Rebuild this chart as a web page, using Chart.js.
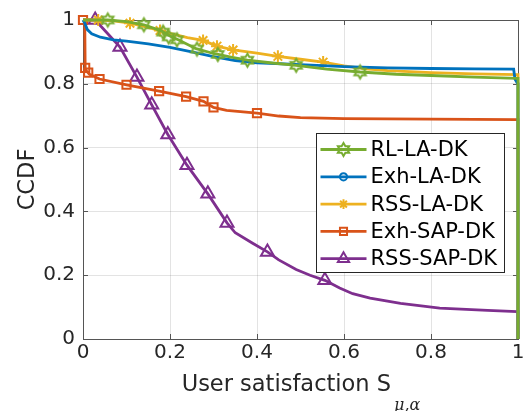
<!DOCTYPE html>
<html>
<head>
<meta charset="utf-8">
<script src="https://cdn.jsdelivr.net/npm/chart.js@4.4.1/dist/chart.umd.min.js"></script>
<style>
  html, body { margin: 0; padding: 0; background: #ffffff; }
  #wrap { width: 529px; height: 411px; }
</style>
</head>
<body>
<div id="wrap"><canvas id="c" width="529" height="411"></canvas></div>
<script>
// Axis ticks
const xTicks = [0, 0.2, 0.4, 0.6, 0.8, 1];
const yTicks = [0, 0.2, 0.4, 0.6, 0.8, 1];

// Series names (legend order)
const seriesNames = ['RL-LA-DK', 'Exh-LA-DK', 'RSS-LA-DK', 'Exh-SAP-DK', 'RSS-SAP-DK'];

// CCDF curves as [satisfaction, ccdf]
const rlLaCurve = [[0,1],[0.057,1.0],[0.1,0.995],[0.14,0.985],[0.18,0.966],[0.2,0.95],[0.22,0.937],[0.26,0.91],[0.3,0.895],[0.34,0.884],[0.378,0.874],[0.43,0.866],[0.49,0.858],[0.56,0.846],[0.637,0.837],[0.72,0.83],[0.8,0.826],[0.9,0.821],[0.998,0.817],[1,0.817],[1,0]];
const rlLaMarks = [[0.057,1.0],[0.14,0.985],[0.184,0.962],[0.197,0.947],[0.216,0.938],[0.262,0.909],[0.31,0.892],[0.378,0.874],[0.49,0.858],[0.637,0.837]];

const exhLaCurve = [[0,1],[0.004,0.99],[0.01,0.97],[0.02,0.957],[0.04,0.946],[0.07,0.938],[0.1,0.934],[0.15,0.925],[0.2,0.914],[0.25,0.9],[0.3,0.885],[0.35,0.873],[0.4,0.866],[0.5,0.86],[0.6,0.854],[0.7,0.85],[0.8,0.848],[0.9,0.847],[0.99,0.846],[0.993,0.815],[0.998,0.803],[1,0.801],[1,0]];
const exhLaMarks = [];

const rssLaCurve = [[0,1],[0.035,1.0],[0.07,0.997],[0.108,0.99],[0.14,0.98],[0.177,0.967],[0.2,0.958],[0.24,0.945],[0.276,0.936],[0.308,0.918],[0.345,0.906],[0.4,0.896],[0.448,0.886],[0.5,0.877],[0.552,0.868],[0.6,0.856],[0.65,0.847],[0.7,0.841],[0.8,0.835],[0.9,0.831],[0.998,0.829],[1,0.829],[1,0]];
const rssLaMarks = [[0.035,1.0],[0.108,0.99],[0.177,0.967],[0.276,0.936],[0.308,0.918],[0.345,0.906],[0.448,0.886],[0.552,0.868]];

const exhSapCurve = [[0,1],[0.004,1],[0.005,0.85],[0.008,0.84],[0.015,0.83],[0.038,0.815],[0.1,0.797],[0.175,0.777],[0.237,0.76],[0.277,0.745],[0.3,0.726],[0.33,0.717],[0.4,0.708],[0.45,0.699],[0.5,0.694],[0.6,0.691],[0.8,0.689],[0.998,0.688],[1,0.688],[1,0]];
const exhSapMarks = [[0,1],[0.005,0.85],[0.012,0.835],[0.038,0.815],[0.1,0.797],[0.175,0.777],[0.237,0.76],[0.277,0.745],[0.3,0.726],[0.4,0.708]];

const rssSapCurve = [[0,1],[0.028,1.0],[0.085,0.915],[0.124,0.821],[0.158,0.734],[0.195,0.641],[0.239,0.545],[0.287,0.455],[0.331,0.364],[0.35,0.333],[0.39,0.3],[0.424,0.273],[0.45,0.248],[0.49,0.218],[0.522,0.2],[0.556,0.184],[0.59,0.16],[0.62,0.142],[0.66,0.128],[0.73,0.112],[0.82,0.097],[0.93,0.09],[0.998,0.086],[1,0.086],[1,0]];
const rssSapMarks = [[0.028,1.0],[0.085,0.915],[0.124,0.821],[0.158,0.734],[0.195,0.641],[0.239,0.545],[0.287,0.455],[0.331,0.364],[0.424,0.273],[0.556,0.184]];

const colors = ['#77AC30', '#0072BD', '#EDB120', '#D95319', '#7E2F8E'];

// Six-pointed star marker drawn on a small canvas
function makeHexagram(color, R, lw) {
  const s = Math.ceil(2 * R + lw * 2 + 2);
  const cv = document.createElement('canvas');
  cv.width = s; cv.height = s;
  const g = cv.getContext('2d');
  const c = s / 2, r = R / Math.sqrt(3);
  g.beginPath();
  for (let i = 0; i < 12; i++) {
    const a = -Math.PI / 2 + i * Math.PI / 6;
    const rr = i % 2 === 0 ? R : r;
    const px = c + rr * Math.cos(a), py = c + rr * Math.sin(a);
    if (i === 0) g.moveTo(px, py); else g.lineTo(px, py);
  }
  g.closePath();
  g.strokeStyle = color;
  g.lineWidth = lw;
  g.lineJoin = 'miter';
  g.stroke();
  return cv;
}
const hexagram = makeHexagram(colors[0], 6.5, 2);

const markerStyles = [
  { style: hexagram, radius: 6.5 },
  { style: 'circle', radius: 4.5 },
  { style: 'star', radius: 6 },
  { style: 'rect', radius: 5.8 },
  { style: 'triangle', radius: 7.5 }
];

const curves = [rlLaCurve, exhLaCurve, rssLaCurve, exhSapCurve, rssSapCurve];
const marks = [rlLaMarks, exhLaMarks, rssLaMarks, exhSapMarks, rssSapMarks];
const toXY = arr => arr.map(p => ({ x: p[0], y: p[1] }));

const datasets = [];
seriesNames.forEach((name, i) => {
  datasets.push({
    label: name,
    data: toXY(curves[i]),
    borderColor: colors[i],
    borderWidth: 2.8,
    pointRadius: 0,
    tension: 0,
    fill: false,
    clip: false,
    order: i * 2 + 1
  });
  datasets.push({
    label: name + ' markers',
    data: toXY(marks[i]),
    showLine: false,
    pointStyle: markerStyles[i].style,
    pointRadius: markerStyles[i].radius,
    pointHoverRadius: markerStyles[i].radius,
    pointBorderColor: colors[i],
    pointBackgroundColor: 'rgba(0,0,0,0)',
    pointBorderWidth: 2,
    clip: false,
    order: i * 2
  });
});

const textColor = '#262626';
const frameColor = '#555555';

// Full box around the plot with inward tick marks on all four sides
const framePlugin = {
  id: 'frame',
  beforeDatasetsDraw(chart) {
    const { ctx, chartArea: a, scales } = chart;
    ctx.save();
    ctx.strokeStyle = frameColor;
    ctx.lineWidth = 1;
    ctx.strokeRect(Math.round(a.left) + 0.5, Math.round(a.top) + 0.5,
      Math.round(a.right - a.left), Math.round(a.bottom - a.top));
    const L = 5;
    ctx.beginPath();
    xTicks.forEach(v => {
      const px = Math.round(scales.x.getPixelForValue(v)) + 0.5;
      ctx.moveTo(px, a.bottom); ctx.lineTo(px, a.bottom - L);
      ctx.moveTo(px, a.top); ctx.lineTo(px, a.top + L);
    });
    yTicks.forEach(v => {
      const py = Math.round(scales.y.getPixelForValue(v)) + 0.5;
      ctx.moveTo(a.left, py); ctx.lineTo(a.left + L, py);
      ctx.moveTo(a.right, py); ctx.lineTo(a.right - L, py);
    });
    ctx.stroke();
    ctx.restore();
  }
};

// Axis titles, with the subscript on the x title
const titlePlugin = {
  id: 'axisTitles',
  afterDraw(chart) {
    const { ctx, chartArea: a } = chart;
    ctx.save();
    ctx.fillStyle = textColor;
    const main = 'User satisfaction S';
    const sub = '\u03BC,\u03B1';
    const mainFont = '22.5px "DejaVu Sans"';
    const subFont = 'italic 16px "DejaVu Serif"';
    ctx.font = mainFont;
    const wMain = ctx.measureText(main).width;
    ctx.font = subFont;
    const wSub = ctx.measureText(sub).width;
    const cx = (a.left + a.right) / 2;
    const x0 = cx - (wMain + wSub + 2) / 2;
    ctx.textBaseline = 'alphabetic';
    ctx.textAlign = 'left';
    ctx.font = mainFont;
    ctx.fillText(main, x0, a.bottom + 52);
    ctx.font = subFont;
    ctx.fillText(sub, x0 + wMain + 3, a.bottom + 71);

    ctx.font = mainFont;
    ctx.translate(a.left - 49, (a.top + a.bottom) / 2);
    ctx.rotate(-Math.PI / 2);
    ctx.textAlign = 'center';
    ctx.fillText('CCDF', 0, 0);
    ctx.restore();
  }
};

// Boxed legend showing line sample with marker for each series
const legendPlugin = {
  id: 'boxLegend',
  afterDraw(chart) {
    const { ctx, chartArea: a } = chart;
    const bw = 188, bh = 139;
    const bx = Math.round(a.right - 202) + 0.5;
    const by = Math.round(a.top + 113) + 0.5;
    ctx.save();
    ctx.fillStyle = '#ffffff';
    ctx.fillRect(bx, by, bw, bh);
    ctx.strokeStyle = '#262626';
    ctx.lineWidth = 1;
    ctx.strokeRect(bx, by, bw, bh);
    ctx.font = '21px "DejaVu Sans"';
    ctx.textBaseline = 'middle';
    ctx.textAlign = 'left';
    seriesNames.forEach((name, i) => {
      const ry = by + 16 + i * 27.3;
      ctx.strokeStyle = colors[i];
      ctx.lineWidth = 2.8;
      ctx.beginPath();
      ctx.moveTo(bx + 4, ry);
      ctx.lineTo(bx + 50, ry);
      ctx.stroke();
      ctx.fillStyle = 'rgba(0,0,0,0)';
      ctx.lineWidth = 2;
      const ms = markerStyles[i];
      Chart.helpers.drawPoint(ctx, {
        pointStyle: ms.style,
        radius: i === 4 ? 6.5 : (i === 3 ? 5 : ms.radius * 0.8),
        rotation: 0,
        borderWidth: 2
      }, bx + 27, ry);
      ctx.fillStyle = '#000000';
      ctx.fillText(name, bx + 54, ry + 1);
    });
    ctx.restore();
  }
};

const fmt = v => String(Number(v.toFixed(1)));

new Chart(document.getElementById('c'), {
  type: 'line',
  data: { datasets },
  options: {
    responsive: false,
    animation: false,
    devicePixelRatio: 1,
    layout: { padding: { left: 0, top: 18, right: 11, bottom: 0 } },
    plugins: { legend: { display: false }, tooltip: { enabled: false } },
    scales: {
      x: {
        type: 'linear', min: 0, max: 1,
        afterFit(scale) { scale.height = 72; },
        afterBuildTicks(scale) { scale.ticks = xTicks.map(v => ({ value: v })); },
        ticks: { callback: fmt, padding: 2, maxRotation: 0, autoSkip: false,
          color: textColor, font: { family: 'DejaVu Sans', size: 20 } },
        grid: { color: 'rgba(38,38,38,0.13)', drawTicks: false, lineWidth: 1 },
        border: { display: false }
      },
      y: {
        type: 'linear', min: 0, max: 1,
        afterFit(scale) { scale.width = 83; },
        afterBuildTicks(scale) { scale.ticks = yTicks.map(v => ({ value: v })); },
        ticks: { callback: fmt, padding: 8, autoSkip: false,
          color: textColor, font: { family: 'DejaVu Sans', size: 20 } },
        grid: { color: 'rgba(38,38,38,0.13)', drawTicks: false, lineWidth: 1 },
        border: { display: false }
      }
    }
  },
  plugins: [framePlugin, titlePlugin, legendPlugin]
});
</script>
</body>
</html>
